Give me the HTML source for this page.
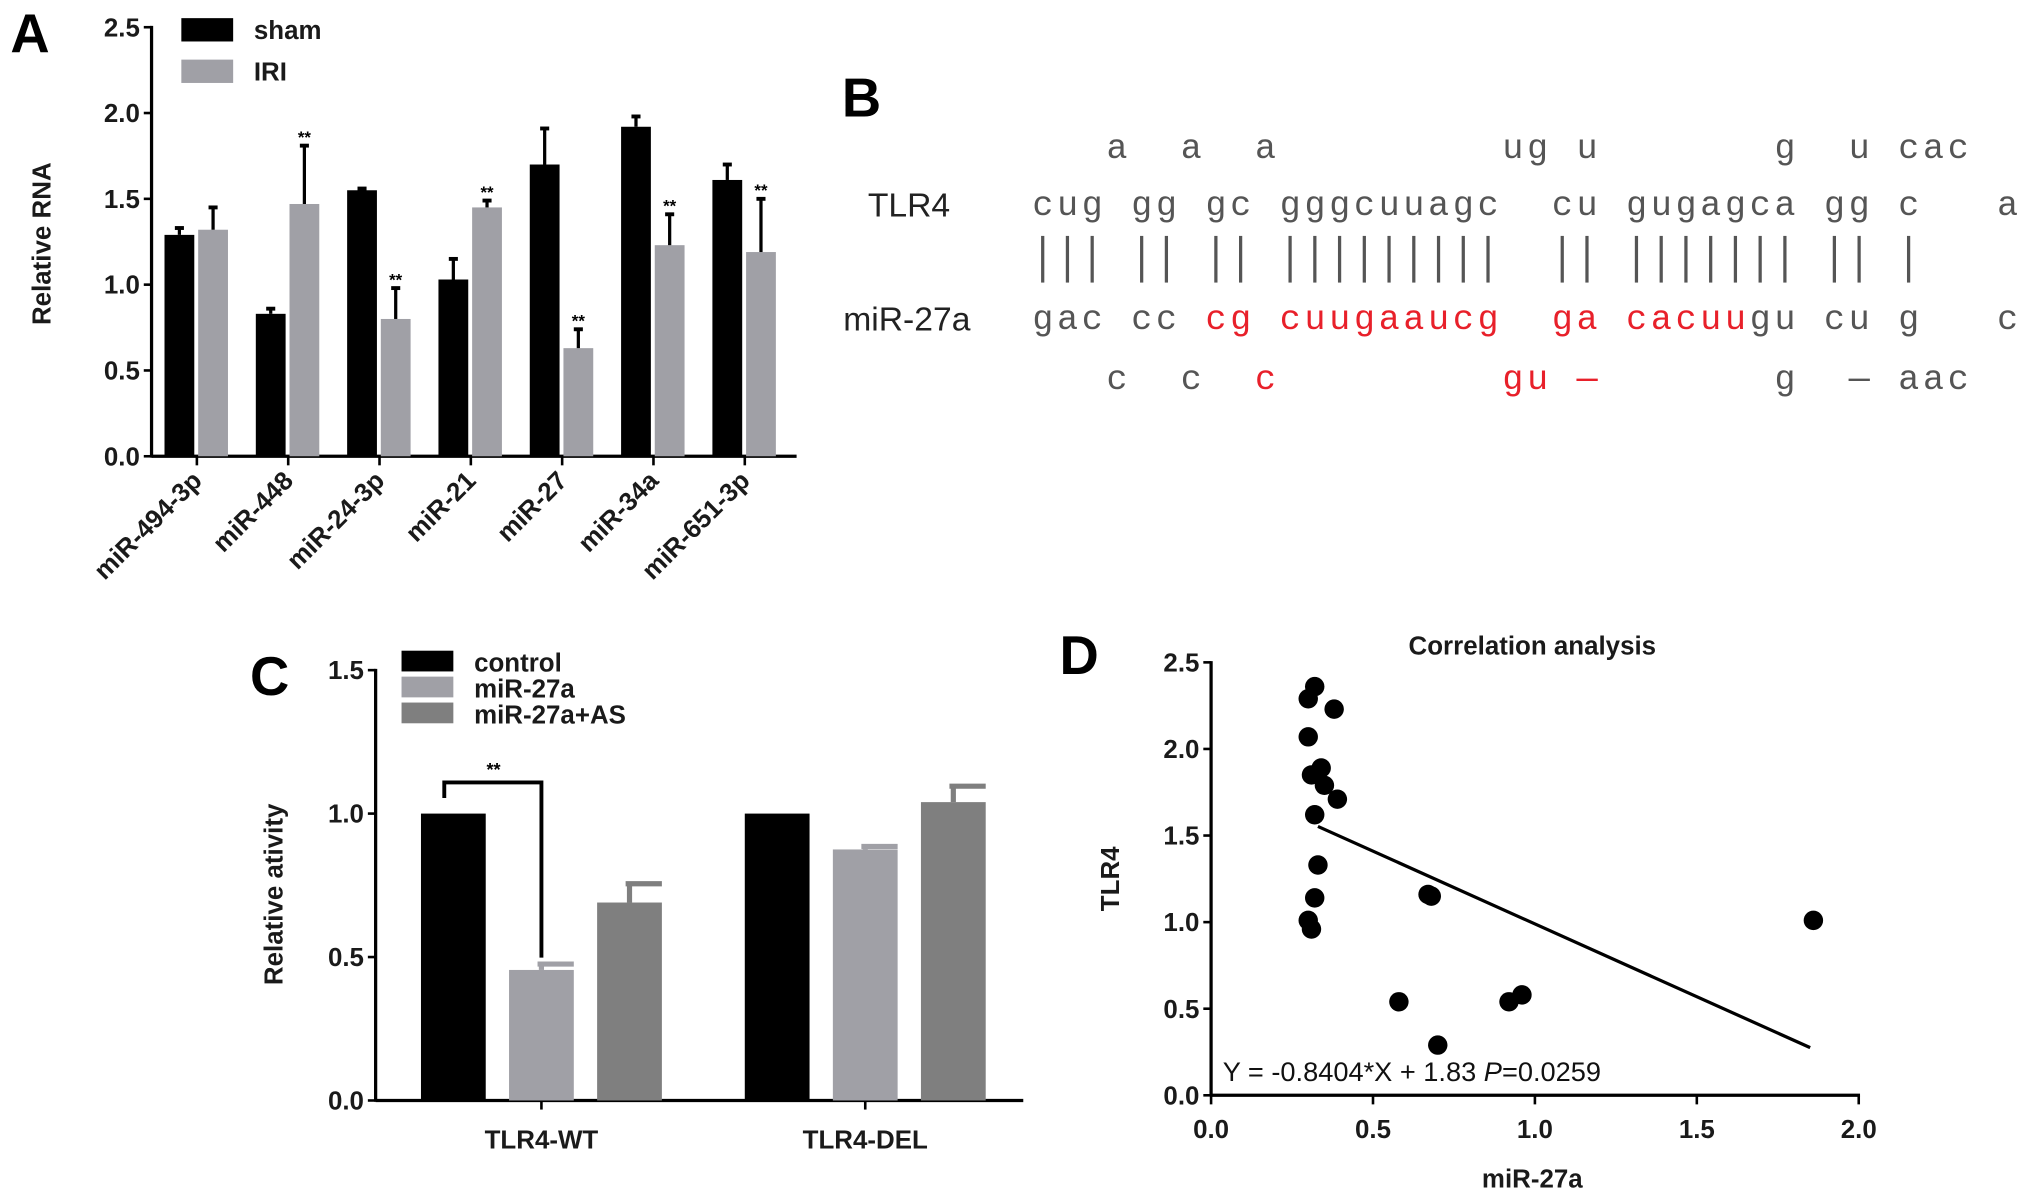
<!DOCTYPE html>
<html><head><meta charset="utf-8"><style>
html,body{margin:0;padding:0;background:#fff}
svg{display:block}
text{font-family:"Liberation Sans",Arial,sans-serif}
.t{font-weight:bold;font-size:20px;fill:#1a1a1a}
.seq{font-family:"Liberation Mono",monospace;font-size:27px;fill:#555;letter-spacing:2.9px}
.red{fill:#e8202a}
</style></head><body>
<svg id="fig" width="2031" height="1199" viewBox="0 0 1568 925" preserveAspectRatio="none" xmlns="http://www.w3.org/2000/svg">
<g id="pA"></g>
<g id="pB"></g>
<g id="pC"></g>
<g id="pD"></g>
</svg>
<script>
// Panel A data
const aCats=["miR-494-3p","miR-448","miR-24-3p","miR-21","miR-27","miR-34a","miR-651-3p"];
const aSham=[1.29,0.83,1.55,1.03,1.70,1.92,1.61];
const aShamErr=[0.04,0.03,0.01,0.12,0.21,0.06,0.09];
const aIRI=[1.32,1.47,0.80,1.45,0.63,1.23,1.19];
const aIRIErr=[0.13,0.34,0.18,0.04,0.11,0.18,0.31];
const aSig=[false,true,true,true,true,true,true];
const aTicks=[0,0.5,1.0,1.5,2.0,2.5];
// Panel C data
const cGroups=["TLR4-WT","TLR4-DEL"];
const cSeries=["control","miR-27a","miR-27a+AS"];
const cControl=[1.0,1.0];
const cMir=[0.455,0.875];
const cAS=[0.69,1.04];
const cMirErr=[0.025,0.015];
const cASErr=[0.07,0.06];
const cTicks=[0,0.5,1.0,1.5];
// Panel D data
const dX=[0.32,0.30,0.38,0.30,0.34,0.31,0.35,0.39,0.32,0.33,0.32,0.67,0.68,0.30,0.31,0.58,0.92,0.96,0.70,1.86];
const dY=[2.36,2.29,2.23,2.07,1.89,1.85,1.79,1.71,1.62,1.33,1.14,1.16,1.15,1.01,0.96,0.54,0.54,0.58,0.29,1.01];
const dSlope=-0.8404, dIntercept=1.83;
const dXTicks=[0,0.5,1.0,1.5,2.0];
const dYTicks=[0,0.5,1.0,1.5,2.0,2.5];

const NS="http://www.w3.org/2000/svg";
function mk(parent,tag,attrs,txt){const e=document.createElementNS(NS,tag);for(const k in attrs)e.setAttribute(k,attrs[k]);if(txt!==undefined)e.textContent=txt;parent.appendChild(e);return e;}
function fmt(v){return v.toFixed(1);}

// ---------- Panel A ----------
(function(){
const g=document.getElementById('pA');
const x0=117,y0=352,yTop=21,xEnd=615;
const ys=v=>y0-(v/2.5)*(y0-yTop);
const xc=i=>152+i*70.5;
let e=mk(g,'text',{x:8,y:40,'font-size':42,'font-weight':'bold'},'A');


mk(g,'line',{x1:x0,y1:yTop-1,x2:x0,y2:y0+1,stroke:'#000','stroke-width':2.5});
mk(g,'line',{x1:x0,y1:y0,x2:xEnd,y2:y0,stroke:'#000','stroke-width':2.5});
aTicks.forEach(t=>{mk(g,'line',{x1:x0-6,y1:ys(t),x2:x0,y2:ys(t),stroke:'#000','stroke-width':2});
 const l=mk(g,'text',{x:x0-9,y:ys(t)+7,'text-anchor':'end',class:'t'},fmt(t));
 
 });
const yl=mk(g,'text',{x:0,y:0,transform:'translate(39,188) rotate(-90)','text-anchor':'middle',class:'t','font-size':21},'Relative RNA');


aCats.forEach((c,i)=>{
 const cx=xc(i);
 mk(g,'line',{x1:cx,y1:y0,x2:cx,y2:y0+7,stroke:'#000','stroke-width':2});
 const b=mk(g,'rect',{x:cx-25,y:ys(aSham[i]),width:23,height:y0-ys(aSham[i]),fill:'#000'});
 
 
 const et=ys(aSham[i]+aShamErr[i]);
 mk(g,'line',{x1:cx-13.5,y1:ys(aSham[i]),x2:cx-13.5,y2:et,stroke:'#000','stroke-width':2.5});
 mk(g,'line',{x1:cx-17,y1:et,x2:cx-10,y2:et,stroke:'#000','stroke-width':3});
 const b2=mk(g,'rect',{x:cx+1,y:ys(aIRI[i]),width:23,height:y0-ys(aIRI[i]),fill:'#a0a0a6'});
 
 
 const et2=ys(aIRI[i]+aIRIErr[i]);
 mk(g,'line',{x1:cx+12.5,y1:ys(aIRI[i]),x2:cx+12.5,y2:et2,stroke:'#000','stroke-width':2.5});
 mk(g,'line',{x1:cx+9,y1:et2,x2:cx+16,y2:et2,stroke:'#000','stroke-width':3});
 if(aSig[i]){const s=mk(g,'text',{x:cx+12.5,y:et2-2,'text-anchor':'middle','font-size':13,'font-weight':'bold'},'**');
  
  }
 const lab=mk(g,'text',{x:0,y:0,transform:`translate(${cx+5},${y0+20}) rotate(-45)`,'text-anchor':'end',class:'t','font-size':19.5},c);
 
 
});
const l1=mk(g,'rect',{x:140,y:14,width:40,height:18,fill:'#000'});


mk(g,'text',{x:196,y:30,class:'t','font-size':20},'sham');
const l2=mk(g,'rect',{x:140,y:46,width:40,height:18,fill:'#a0a0a6'});


mk(g,'text',{x:196,y:62,class:'t','font-size':20},'IRI');
})();

// ---------- Panel B ----------
(function(){
const g=document.getElementById('pB');
let e=mk(g,'text',{x:650,y:90,'font-size':42,'font-weight':'bold'},'B');


const X0=797,W=19.1;
function row(str,y,redCols){for(let i=0;i<str.length;i++){const ch=str[i];if(ch===' ')continue;
 const t=mk(g,'text',{x:X0+i*W,y:y,class:'seq'+(redCols&&redCols.includes(i)?' red':'')},ch);}}
row("   a  a  a         ug u       g  u cac",122,[]);
row("cug gg gc gggcuuagc  cu gugagca gg c   a",166,[]);
const red=[7,8,10,11,12,13,14,15,16,17,18,21,22,24,25,26,27,28];
row("gac cc cg cuugaaucg  ga cacuugu cu g   c",254,red);
row("   c  c  c         gu \u2014       g  \u2014 aac",300,[9,19,20,22]);
[0,1,2,4,5,7,8,10,11,12,13,14,15,16,17,18,21,22,24,25,26,27,28,29,30,32,33,35].forEach(c=>{
 mk(g,'line',{x1:X0+c*W+8,y1:182,x2:X0+c*W+8,y2:218,stroke:'#555','stroke-width':2.5});});
const a=mk(g,'text',{x:670,y:167,'font-size':26,fill:'#222'},'TLR4');


const b=mk(g,'text',{x:651,y:255,'font-size':26,fill:'#222'},'miR-27a');


})();

// ---------- Panel C ----------
(function(){
const g=document.getElementById('pC');
const x0=290,y0=849,yTop=517,xEnd=790;
const ys=v=>y0-(v/1.5)*(y0-yTop);
let e=mk(g,'text',{x:193,y:536,'font-size':42,'font-weight':'bold'},'C');


mk(g,'line',{x1:x0,y1:yTop-1,x2:x0,y2:y0+1,stroke:'#000','stroke-width':2.5});
mk(g,'line',{x1:x0,y1:y0,x2:xEnd,y2:y0,stroke:'#000','stroke-width':2.5});
cTicks.forEach(t=>{mk(g,'line',{x1:x0-6,y1:ys(t),x2:x0,y2:ys(t),stroke:'#000','stroke-width':2});
 const l=mk(g,'text',{x:x0-9,y:ys(t)+7,'text-anchor':'end',class:'t'},fmt(t));
 
 });
const yl=mk(g,'text',{x:0,y:0,transform:'translate(218,690) rotate(-90)','text-anchor':'middle',class:'t','font-size':21},'Relative ativity');


const cols=['#000','#a0a0a6','#7f7f7f'];
const vals=[cControl,cMir,cAS], errs=[null,cMirErr,cASErr], offs=[-93,-25,43];
cGroups.forEach((gname,i)=>{
 const cx=418+i*250;
 mk(g,'line',{x1:cx,y1:y0,x2:cx,y2:y0+7,stroke:'#000','stroke-width':2});
 const lab=mk(g,'text',{x:cx,y:886,'text-anchor':'middle',class:'t'},gname);
 
 
 for(let s=0;s<3;s++){
  const v=vals[s][i];
  const r=mk(g,'rect',{x:cx+offs[s],y:ys(v),width:50,height:y0-ys(v),fill:cols[s]});
  
  
  if(errs[s]){const et=ys(v+errs[s][i]);const ex=cx+offs[s]+25;
   mk(g,'line',{x1:ex,y1:ys(v),x2:ex,y2:et,stroke:cols[s],'stroke-width':4});
   mk(g,'line',{x1:ex-3,y1:et+1,x2:ex+25,y2:et+1,stroke:cols[s],'stroke-width':4});}
 }
});
const bx1=343,bx2=418,by=ys(1.0)-24;
mk(g,'polyline',{points:`${bx1},${ys(1.0)-12} ${bx1},${by} ${bx2},${by} ${bx2},${ys(cMir[0]+cMirErr[0])-4}`,fill:'none',stroke:'#000','stroke-width':3});
const st=mk(g,'text',{x:381,y:by-5,'text-anchor':'middle','font-size':14,'font-weight':'bold'},'**');


cSeries.forEach((s,k)=>{
 const r=mk(g,'rect',{x:310,y:502+k*20,width:40,height:16,fill:cols[k]});
 
 
 mk(g,'text',{x:366,y:518+k*20,class:'t','font-size':20},s);
});
})();

// ---------- Panel D ----------
(function(){
const g=document.getElementById('pD');
const x0=935,y0=845,yTop=511,xEnd=1435;
const xs=v=>x0+(v/2)*(xEnd-x0);
const ys=v=>y0-(v/2.5)*(y0-yTop);
let e=mk(g,'text',{x:818,y:520,'font-size':42,'font-weight':'bold'},'D');


const ti=mk(g,'text',{x:1183,y:505,'text-anchor':'middle',class:'t'},'Correlation analysis');


mk(g,'line',{x1:x0,y1:yTop-1,x2:x0,y2:y0+1,stroke:'#000','stroke-width':2.5});
mk(g,'line',{x1:x0,y1:y0,x2:xEnd+1,y2:y0,stroke:'#000','stroke-width':2.5});
dYTicks.forEach(t=>{mk(g,'line',{x1:x0-6,y1:ys(t),x2:x0,y2:ys(t),stroke:'#000','stroke-width':2});
 const l=mk(g,'text',{x:x0-9,y:ys(t)+7,'text-anchor':'end',class:'t'},fmt(t));
 
 });
dXTicks.forEach(t=>{mk(g,'line',{x1:xs(t),y1:y0,x2:xs(t),y2:y0+7,stroke:'#000','stroke-width':2});
 const l=mk(g,'text',{x:xs(t),y:878,'text-anchor':'middle',class:'t'},fmt(t));
 
 });
const xl=mk(g,'text',{x:1183,y:916,'text-anchor':'middle',class:'t','font-size':21},'miR-27a');


const yl=mk(g,'text',{x:0,y:0,transform:'translate(864,678) rotate(-90)','text-anchor':'middle',class:'t','font-size':21},'TLR4');


const lx2=Math.max(...dX)-0.01;
const fl=mk(g,'line',{x1:xs(0.33),y1:ys(dSlope*0.33+dIntercept),x2:xs(lx2),y2:ys(dSlope*lx2+dIntercept),stroke:'#000','stroke-width':2.5});


dX.forEach((v,i)=>{
 const p=mk(g,'circle',{cx:xs(v),cy:ys(dY[i]),r:7.5,fill:'#000'});
 
 
});
const eq=mk(g,'text',{x:944,y:834,'font-size':21,fill:'#111'});


eq.innerHTML='Y = -0.8404*X + 1.83 <tspan font-style="italic">P</tspan>=0.0259';
})();
</script>
</body></html>
